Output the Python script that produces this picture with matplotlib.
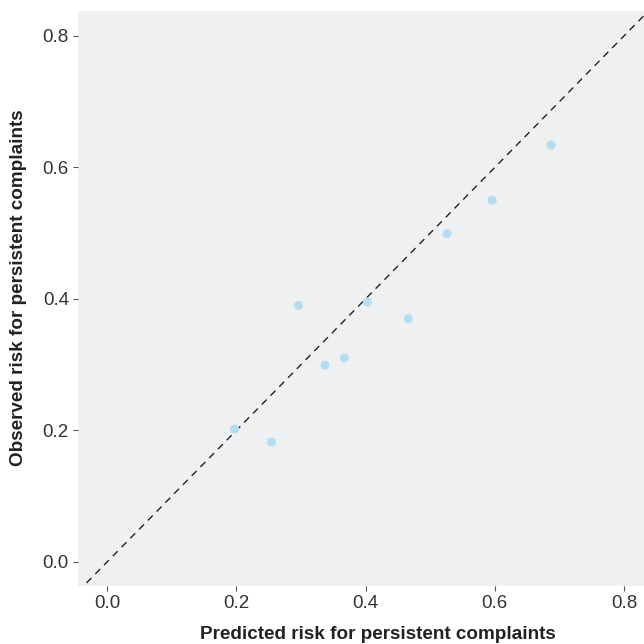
import matplotlib.pyplot as plt

plt.rcParams['font.family'] = ['Liberation Sans', 'DejaVu Sans']

# predicted vs observed risk
predicted = [0.197, 0.254, 0.296, 0.337, 0.367, 0.403, 0.466, 0.526, 0.596, 0.687]
observed = [0.202, 0.182, 0.390, 0.299, 0.310, 0.395, 0.370, 0.499, 0.550, 0.634]
ticks = [0.0, 0.2, 0.4, 0.6, 0.8]

fig = plt.figure(figsize=(6.44, 6.44), dpi=100)
ax = fig.add_axes([0.121, 0.0905, 0.879, 0.8925])
ax.set_facecolor('#eff0f2')
for s in ax.spines.values():
    s.set_visible(False)

# reference line y = x
ax.plot([-0.1, 1.0], [-0.1, 1.0], linestyle=(0, (5, 4)), color='#222222', linewidth=1)
ax.scatter(predicted, observed, s=42, color='#b5dcf1', edgecolors='none', zorder=3)

ax.set_xlim(-0.0455, 0.831)
ax.set_ylim(-0.0365, 0.838)
ax.set_xticks(ticks)
ax.set_yticks(ticks)
ax.set_xticklabels(['0.0', '0.2', '0.4', '0.6', '0.8'])
ax.set_yticklabels(['0.0', '0.2', '0.4', '0.6', '0.8'])
ax.tick_params(axis='both', labelsize=13.5, colors='#555555', labelcolor='#333333',
               length=3.5, width=0.8, pad=3)

ax.set_xlabel('Predicted risk for persistent complaints', fontsize=13.6, fontweight='bold',
              color='#222222', labelpad=10)
ax.set_ylabel('Observed risk for persistent complaints', fontsize=13.6, fontweight='bold',
              color='#222222', labelpad=11)
ax.xaxis.label.set_x(0.530)
ax.yaxis.label.set_y(0.518)

fig.savefig('out.png', dpi=100)
